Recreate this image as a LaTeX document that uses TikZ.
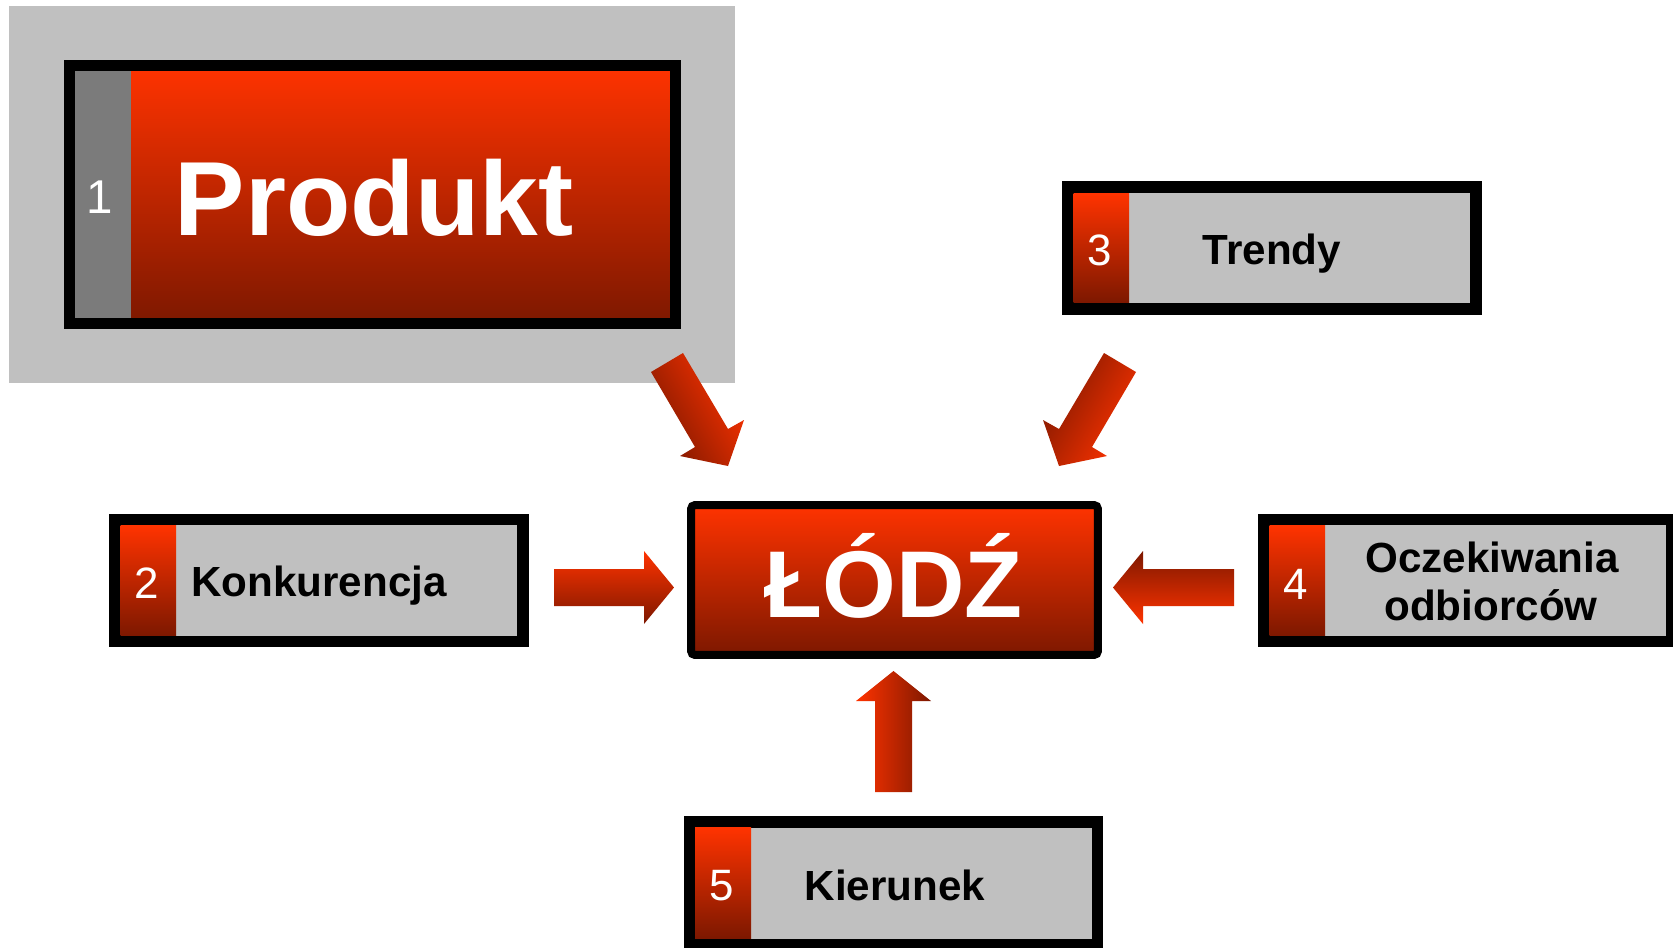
\documentclass[tikz,border=0pt]{standalone}
\usepackage{fontspec}
\setmainfont{Liberation Sans}
\definecolor{hot}{HTML}{FF3300}
\definecolor{deep}{HTML}{7D1800}
\definecolor{panel}{HTML}{C0C0C0}
\definecolor{tabgray}{HTML}{7B7B7B}
\begin{document}
\begin{tikzpicture}[x=0.02cm,y=-0.02cm,
  redgrad/.style={top color=hot, bottom color=deep},
  card/.style={draw=black, line width=0.23cm, fill=panel, outer sep=0pt, inner sep=0pt,
    minimum width=8.17cm, minimum height=2.45cm},
  bigcard/.style={draw=black, line width=0.22cm, redgrad, outer sep=0pt, inner sep=0pt},
  hub/.style={draw=black, line width=0.16cm, rounded corners=0.08cm, redgrad,
    outer sep=0pt, inner sep=0pt, minimum width=8.14cm, minimum height=3.0cm},
  blockarrow/.style={draw=none, shading=axis, top color=hot, bottom color=deep},
  label/.style={font=\bfseries\fontsize{24}{29}\selectfont, text=black, anchor=base, inner sep=0pt},
  num/.style={font=\fontsize{25}{30}\selectfont, text=white, anchor=base, inner sep=0pt}]

% canvas
\fill[white] (0,0) rectangle (1673,947);
\useasboundingbox (0,0) rectangle (1673,947);

% highlight panel behind the first card
\fill[panel] (8.5,5.5) rectangle (735,383);

% 1: Produkt
\node[bigcard, minimum width=12.12cm, minimum height=5.16cm] (produkt) at (372.5,194.5) {};
\fill[tabgray] (75,71) rectangle (131,318);
\node[num, font=\fontsize{27}{32}\selectfont] (n1) at (100,213) {1};
\node[font=\bfseries\fontsize{60}{72}\selectfont, text=white, anchor=base, inner sep=0pt]
  (t1) at (374,235) {Produkt};

% 3: Trendy
\node[card] (trendy) at (1272,248) {};
\shade[redgrad] (1073.5,193) rectangle (1129,302.5);
\node[num] (n3) at (1100,265) {3};
\node[label] (t3) at (1272,264) {Trendy};

% 2: Konkurencja
\node[card] (konk) at (319,580.5) {};
\shade[redgrad] (120.5,525.5) rectangle (176,635.5);
\node[num] (n2) at (147,598) {2};
\node[label] (t2) at (319,596) {Konkurencja};

% 4: Oczekiwania odbiorców
\node[card] (ocz) at (1468,580.5) {};
\shade[redgrad] (1269.5,525.5) rectangle (1325,635.5);
\node[num] (n4) at (1296,599) {4};
\node[label] (t4a) at (1492,572) {Oczekiwania};
\node[label] (t4b) at (1491,620) {odbiorców};

% 5: Kierunek
\node[card] (kier) at (893.5,883) {};
\shade[redgrad] (695,827.5) rectangle (751,938);
\node[num] (n5) at (722,900) {5};
\node[label] (t5) at (895,900) {Kierunek};

% centre
\node[hub] (lodz) at (894.5,580) {};
\node[font=\bfseries\fontsize{54}{64}\selectfont, text=white, anchor=base, inner sep=0pt]
  (tl) at (893.5,617) {ŁÓDŹ};

% block arrows pointing at the centre
\shade[blockarrow] (554,569) -- (644,569) -- (644,551) -- (674,587.5) -- (644,624)
  -- (644,606) -- (554,606) -- cycle;
\shade[blockarrow, shading angle=180] (1234,569) -- (1143,569) -- (1143,551) -- (1113,587.5)
  -- (1143,624) -- (1143,606) -- (1234,606) -- cycle;
\shade[blockarrow, shading angle=90] (875,792) -- (875,701) -- (856,701) -- (893.5,671)
  -- (931,701) -- (912,701) -- (912,792) -- cycle;
\shade[blockarrow, shading angle=-60] (651,372) -- (695,447) -- (680,456) -- (728,466)
  -- (744,420) -- (728,429) -- (683,353) -- cycle;
\shade[blockarrow, shading angle=-120] (1136,372) -- (1092,447) -- (1107,456) -- (1059,466)
  -- (1043,420) -- (1059,429) -- (1104,353) -- cycle;
\end{tikzpicture}
\end{document}
